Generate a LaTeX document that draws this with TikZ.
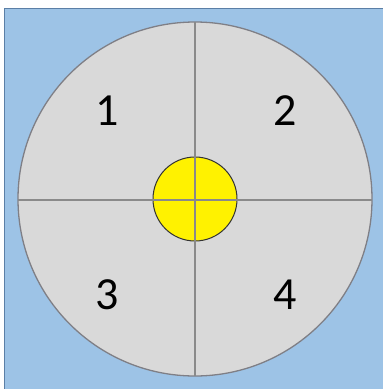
\documentclass[tikz,border=0pt]{standalone}
\usepackage{fontspec}
\setmainfont{Carlito}
\usetikzlibrary{calc}
\definecolor{skyfill}{HTML}{9DC3E6}
\definecolor{skyedge}{HTML}{5B7FA6}
\definecolor{discfill}{HTML}{D9D9D9}
\definecolor{discedge}{HTML}{7F7F86}
\definecolor{crossline}{HTML}{8A8A8A}

\begin{document}
\begin{tikzpicture}[
  x=1pt, y=-1pt,
  backdrop/.style={draw=skyedge, line width=1.2pt, fill=skyfill},
  disc/.style={draw=discedge, line width=1.3pt, fill=discfill},
  core/.style={draw=black!80, line width=1pt, fill=yellow},
  cross/.style={draw=crossline, line width=1.3pt},
  digit/.style={font=\fontsize{46}{46}\selectfont, text=black, inner sep=0pt},
]
\useasboundingbox (0,0) rectangle (383,389);
\draw[backdrop] (4.5,8.5) rectangle (395,400);
\coordinate (c) at (195,199);
\draw[disc] (c) circle[radius=177];
\draw[core] (c) circle[radius=42];
\draw[cross] ($(c)+(0,-177)$) -- ($(c)+(0,177)$);
\draw[cross] ($(c)+(-177,1)$) -- ($(c)+(177,1)$);
\node[digit] (q1) at (107.5,110.5) {1};
\node[digit] (q2) at (285.5,110.5) {2};
\node[digit] (q3) at (107.5,295) {3};
\node[digit] (q4) at (285.5,295) {4};
\end{tikzpicture}
\end{document}
